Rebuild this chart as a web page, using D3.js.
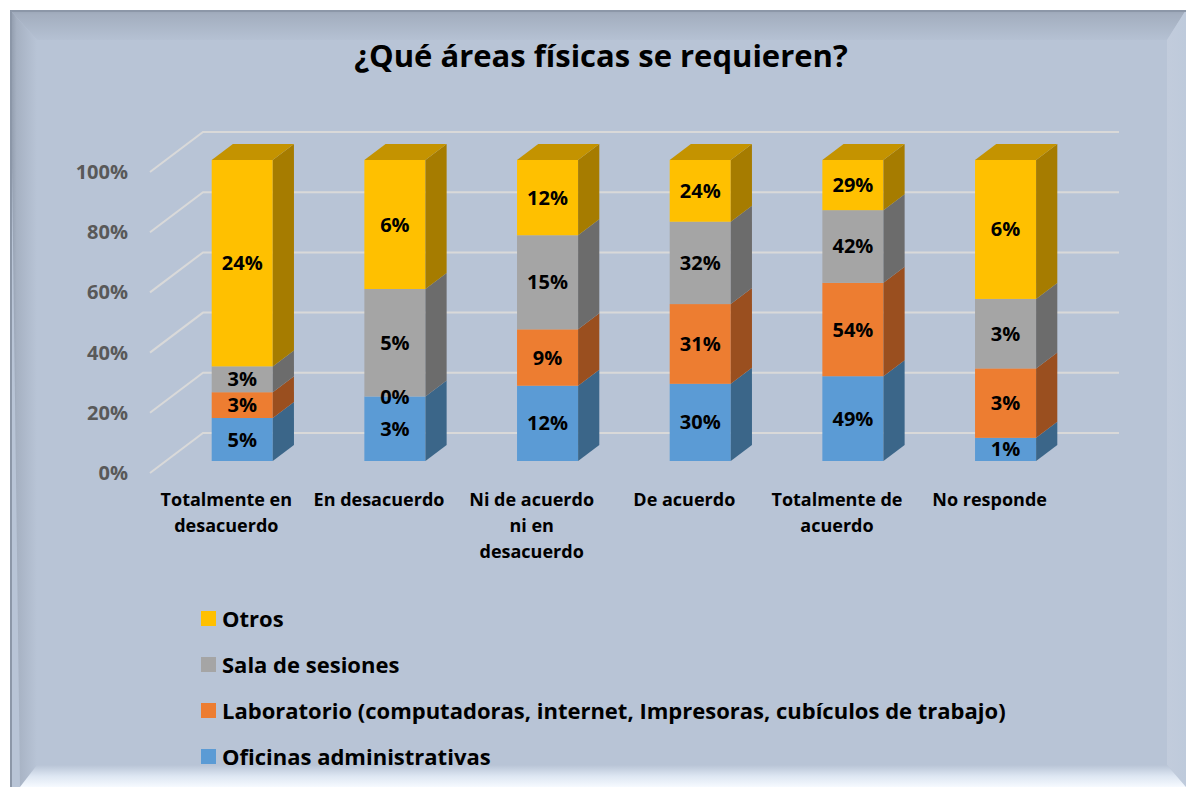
<!DOCTYPE html>
<html><head><meta charset="utf-8">
<script src="https://cdn.jsdelivr.net/npm/d3@7"></script>
<style>html,body{margin:0;padding:0;background:#fff;}svg{display:block;}</style>
</head><body>
<svg id="chart" width="1186" height="787"></svg>
<script>
// ---- data ----
const categories = ["Totalmente en desacuerdo","En desacuerdo","Ni de acuerdo ni en desacuerdo","De acuerdo","Totalmente de acuerdo","No responde"];
const categoryLines = [["Totalmente en","desacuerdo"],["En desacuerdo"],["Ni de acuerdo","ni en","desacuerdo"],["De acuerdo"],["Totalmente de","acuerdo"],["No responde"]];
const seriesNames = ["Oficinas administrativas","Laboratorio (computadoras, internet, Impresoras, cubículos de trabajo)","Sala de sesiones","Otros"];
const oficinas    = [5, 3, 12, 30, 49, 1];
const laboratorio = [3, 0, 9, 31, 54, 3];
const sala        = [3, 5, 15, 32, 42, 3];
const otros       = [24, 6, 12, 24, 29, 6];
const yTicks = [0, 0.2, 0.4, 0.6, 0.8, 1.0];
const title = "¿Qué áreas físicas se requieren?";

const seriesValues = [oficinas, laboratorio, sala, otros];
const frontColors = ["#5B9BD5","#ED7D31","#A5A5A5","#FFC000"];
const sideColors  = ["#3B6689","#9A4F1F","#6C6C6C","#A67C00"];
const topColors   = ["#4A80B0","#C26428","#8A8A8A","#C49300"];

const svg = d3.select("#chart");
const W = 1186, H = 787;
const FONT = "'Open Sans', Lato, sans-serif";

// ---- frame / background ----
const defs = svg.append("defs");
function lg(id, x1,y1,x2,y2, stops){
  const g = defs.append("linearGradient").attr("id",id).attr("x1",x1).attr("y1",y1).attr("x2",x2).attr("y2",y2);
  stops.forEach(s=>g.append("stop").attr("offset",s[0]).attr("stop-color",s[1]));
}
lg("gTop",0,0,0,1,[[0,"#9AA5B6"],[0.15,"#A3AEBF"],[1,"#B5C1D3"]]);
lg("gLeft",0,0,1,0,[[0,"#8E99AA"],[0.25,"#A6B1C2"],[1,"#B8C4D6"]]);
lg("gRight",1,0,0,0,[[0,"#BECADB"],[1,"#C2CCDC"]]);
lg("gBot",0,0,0,1,[[0,"#B8C4D6"],[0.5,"#DDE6F2"],[1,"#F6FAFF"]]);

svg.append("rect").attr("width",W).attr("height",H).attr("fill","#fff");
svg.append("rect").attr("x",10).attr("y",10).attr("width",W-10).attr("height",H-10).attr("fill","#B8C4D6");
const L=10,T=10,R=1186,B=787, iL=37, iT=40, iR=1167, iB=765;
svg.append("polygon").attr("points",[[L,T],[R,T],[iR,iT],[iL,iT]].join(" ")).attr("fill","url(#gTop)");
svg.append("polygon").attr("points",[[L,T],[iL,iT],[iL,iB],[L+10,B]].join(" ")).attr("fill","url(#gLeft)");
svg.append("polygon").attr("points",[[R,T],[R,B],[iR,iB],[iR,iT]].join(" ")).attr("fill","url(#gRight)");
svg.append("polygon").attr("points",[[L+10,B],[iL,iB],[iR,iB],[R,B]].join(" ")).attr("fill","url(#gBot)");
svg.append("line").attr("x1",L).attr("x2",R).attr("y1",T+1).attr("y2",T+1).attr("stroke","#8C97A8").attr("stroke-width",2);
svg.append("line").attr("x1",L+1).attr("x2",L+1).attr("y1",T).attr("y2",B).attr("stroke","#8C97A8").attr("stroke-width",2);

// ---- title ----
svg.append("text").attr("x",601).attr("y",67).attr("text-anchor","middle")
  .attr("font-family",FONT).attr("font-weight","bold").attr("font-size",31).attr("fill","#000").text(title);

// ---- scales (front floor plane) ----
const x = d3.scaleBand().domain(categories).range([150,1066]).padding(0);
const y = d3.scaleLinear().domain([0,1]).range([473,172]);
const DX = 53, DY = -40; // full depth offset
const P = (px, v, d) => [px + DX*d, y(v) + DY*d];

// gridlines
const grid = svg.append("g");
yTicks.forEach(t=>{
  const a = P(150,t,0), b = P(150,t,1), c = P(1066,t,1);
  grid.append("polyline").attr("points",[a,b,c].join(" ")).attr("fill","none")
    .attr("stroke","#D9D9D9").attr("stroke-width",2);
});
// y labels
svg.append("g").selectAll("text").data(yTicks).join("text")
  .attr("x",128).attr("y",t=>y(t)+7).attr("text-anchor","end")
  .attr("font-family",FONT).attr("font-weight","bold").attr("font-size",20).attr("fill","#595959")
  .text(d3.format(".0%"));

// ---- bars ----
const d0 = 0.3, d1 = 0.7;
const barW = x.bandwidth()*0.4;
const bars = svg.append("g");
const labels = svg.append("g");
categories.forEach((c,i)=>{
  const total = d3.sum(seriesValues, s=>s[i]);
  const xl = x(c) + x.bandwidth()/2 - barW/2, xr = xl + barW;
  let cum = 0;
  const segs = seriesValues.map((s,k)=>{ const a=cum/total; cum+=s[i]; return {k, v:s[i], a, b:cum/total}; });
  segs.forEach(sg=>{
    if (sg.b > sg.a) {
      const fl = P(xl,sg.b,d0), fr = P(xr,sg.a,d0);
      bars.append("rect").attr("x",fl[0]).attr("y",fl[1]).attr("width",fr[0]-fl[0]).attr("height",fr[1]-fl[1])
        .attr("fill",frontColors[sg.k]);
      bars.append("polygon").attr("points",[P(xr,sg.a,d0),P(xr,sg.b,d0),P(xr,sg.b,d1),P(xr,sg.a,d1)].join(" "))
        .attr("fill",sideColors[sg.k]);
    }
  });
  const topSeg = segs.filter(s=>s.b>s.a).pop();
  bars.append("polygon").attr("points",[P(xl,1,d0),P(xr,1,d0),P(xr,1,d1),P(xl,1,d1)].join(" "))
    .attr("fill",topColors[topSeg.k]);
  segs.forEach(sg=>{
    const p = P((xl+xr)/2,(sg.a+sg.b)/2,d0);
    labels.append("text").attr("x",p[0]).attr("y",p[1]+7).attr("text-anchor","middle")
      .attr("font-family",FONT).attr("font-weight","bold").attr("font-size",20).attr("fill","#000")
      .text(sg.v+"%");
  });
  // category label
  const t = svg.append("text").attr("text-anchor","middle").attr("font-family",FONT)
    .attr("font-weight","bold").attr("font-size",18).attr("fill","#000");
  categoryLines[i].forEach((ln,j)=>{
    t.append("tspan").attr("x",x(c)+x.bandwidth()/2).attr("y",506+j*26).text(ln);
  });
});

// ---- legend ----
const legendOrder = [3,2,1,0];
const lgG = svg.append("g");
legendOrder.forEach((k,j)=>{
  const yy = 619 + j*46;
  lgG.append("rect").attr("x",201).attr("y",yy-8).attr("width",15).attr("height",15).attr("fill",frontColors[k]);
  lgG.append("text").attr("x",222).attr("y",yy+8).attr("font-family",FONT).attr("font-weight","bold")
    .attr("font-size",22).attr("fill","#000").text(seriesNames[k]);
});
</script>
</body></html>
